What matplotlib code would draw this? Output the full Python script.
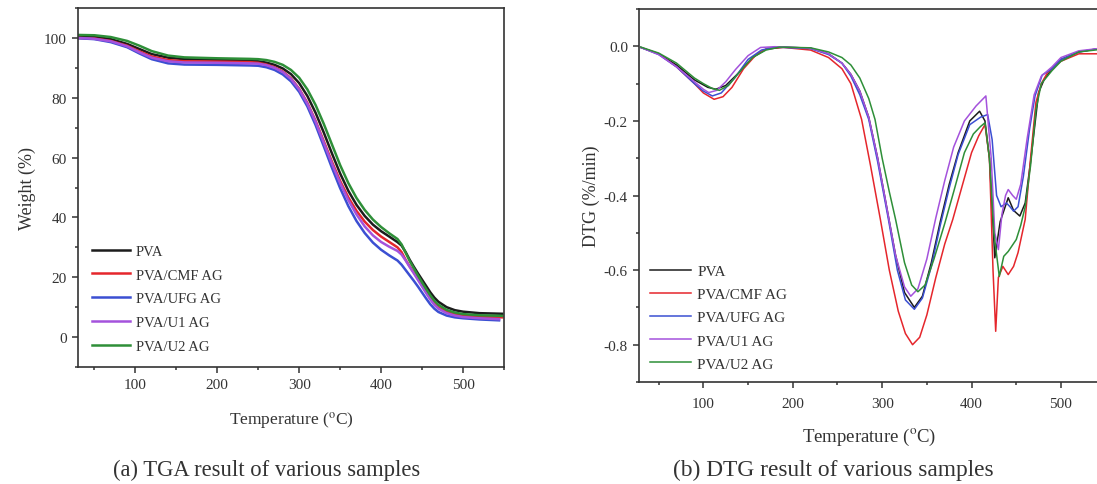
import numpy as np
import matplotlib
matplotlib.use("Agg")
import matplotlib.pyplot as plt
from matplotlib.ticker import MultipleLocator

plt.rcParams['font.family'] = ['Liberation Serif', 'DejaVu Serif']
plt.rcParams['mathtext.fontset'] = 'stix'

labels = ["PVA", "PVA/CMF AG", "PVA/UFG AG", "PVA/U1 AG", "PVA/U2 AG"]
colors = ["#1c1c1c", "#e5262c", "#3b4fd2", "#a452dc", "#2e8f38"]

# ---- TGA data (weight %) ----
tga_T = [30, 50, 70, 90, 105, 120, 140, 160, 200, 240,
         250, 260, 270, 280, 290, 300, 310, 320, 330, 340, 350, 360, 370, 380, 390, 400, 410,
         420, 425, 430, 435, 440, 445, 450, 455, 460, 465, 470, 480, 490, 500, 520, 548]
tga_pva = [100.6, 100.4, 99.6, 98.0, 96.3, 94.6, 93.4, 92.9, 92.7, 92.4,
           92.2, 91.75, 91.0, 89.8, 87.9, 84.9, 80.6, 75.0, 68.4, 61.4, 54.7, 48.9, 44.2, 40.5, 37.6, 35.4, 33.6,
           31.75, 30.6, 28.4, 25.8, 23.5, 21.3, 19.2, 17.1, 15.0, 13.2, 11.8, 10.0, 9.0, 8.5, 8.0, 7.8]
tga_cmf = [100.0, 99.8, 99.0, 97.4, 95.5, 93.8, 92.6, 92.2, 92.1, 91.9,
           91.7, 91.1, 90.2, 88.8, 86.5, 83.0, 78.3, 72.3, 65.5, 58.6, 52.2, 46.7, 42.2, 38.6, 35.8, 33.6, 31.8,
           30.0, 28.4, 25.8, 23.6, 21.6, 19.5, 17.4, 15.2, 13.0, 11.2, 9.9, 8.5, 7.7, 7.2, 6.8, 6.6]
tga_ufg = [99.9, 99.6, 98.6, 96.9, 94.8, 92.9, 91.5, 91.1, 91.0, 90.8,
           90.7, 90.2, 89.3, 87.8, 85.5, 82.0, 77.1, 70.9, 63.8, 56.6, 49.8, 43.8, 38.8, 34.8, 31.6, 29.2, 27.3,
           25.6, 24.2, 22.4, 20.6, 18.8, 16.9, 14.9, 12.9, 11.0, 9.5, 8.4, 7.2, 6.6, 6.3, 5.9, 5.6]
tga_u1 = [100.0, 99.7, 98.9, 97.2, 95.2, 93.4, 92.2, 91.8, 91.7, 91.5,
          91.4, 90.9, 90.0, 88.6, 86.3, 82.8, 78.0, 72.0, 65.0, 58.0, 51.5, 45.8, 41.0, 37.0, 34.0, 31.8, 30.2,
          28.8, 27.6, 25.6, 23.4, 21.3, 19.1, 16.9, 14.7, 12.6, 10.8, 9.5, 8.0, 7.2, 6.7, 6.3, 6.0]
tga_u2 = [101.0, 100.9, 100.3, 99.0, 97.4, 95.6, 94.1, 93.5, 93.2, 93.0,
          92.9, 92.6, 92.0, 91.0, 89.3, 86.7, 82.8, 77.6, 71.3, 64.4, 57.5, 51.5, 46.5, 42.5, 39.3, 36.8, 34.7,
          32.8, 31.0, 28.2, 25.4, 23.0, 20.6, 18.3, 16.1, 14.0, 12.2, 10.8, 9.1, 8.2, 7.7, 7.3, 7.1]

# ---- DTG data (%/min) ----
dtg_pva_T = [30, 50, 70, 90, 105, 114, 125, 140, 155, 170, 190, 220, 240, 255, 265, 275, 285, 295, 305, 315,
             325, 336, 345, 355, 365, 375, 385, 398, 409, 415, 420, 426, 432, 441, 447, 454, 460, 466, 475,
             481, 490, 500, 520, 545]
dtg_pva = [-0.003, -0.02, -0.05, -0.09, -0.11, -0.115, -0.105, -0.07, -0.03, -0.008, -0.002, -0.005, -0.02,
           -0.045, -0.075, -0.12, -0.19, -0.3, -0.43, -0.56, -0.66, -0.70, -0.67, -0.58, -0.47, -0.37, -0.285,
           -0.2, -0.174, -0.2, -0.3, -0.567, -0.47, -0.406, -0.44, -0.455, -0.42, -0.31, -0.124, -0.09, -0.06,
           -0.035, -0.015, -0.005]
dtg_cmf_T = [30, 50, 70, 90, 100, 112, 122, 132, 145, 160, 172, 190, 220, 240, 255, 265, 277, 287, 298, 308,
             318, 326, 334, 342, 350, 360, 370, 379, 390, 400, 408, 415, 420, 424, 427, 430, 435, 441, 447, 452,
             460, 466, 472, 478, 485, 500, 520, 545]
dtg_cmf = [-0.003, -0.02, -0.055, -0.1, -0.125, -0.142, -0.135, -0.11, -0.06, -0.02, -0.005, -0.003, -0.01,
           -0.03, -0.06, -0.1, -0.196, -0.32, -0.464, -0.6, -0.71, -0.77, -0.80, -0.78, -0.72, -0.62, -0.53,
           -0.464, -0.37, -0.285, -0.24, -0.21, -0.3, -0.6, -0.764, -0.62, -0.59, -0.612, -0.59, -0.553, -0.464,
           -0.3, -0.15, -0.1, -0.07, -0.04, -0.02, -0.02]
dtg_ufg_T = [30, 50, 70, 90, 100, 110, 120, 135, 150, 165, 180, 220, 240, 255, 265, 275, 285, 295, 307, 317,
             326, 336, 345, 355, 365, 375, 385, 398, 410, 418, 423, 428, 433, 439, 443, 447, 452, 458, 465, 471,
             479, 490, 500, 520, 545]
dtg_ufg = [-0.003, -0.022, -0.055, -0.1, -0.12, -0.133, -0.125, -0.085, -0.035, -0.01, -0.002, -0.006, -0.022,
           -0.045, -0.08, -0.13, -0.196, -0.31, -0.464, -0.6, -0.68, -0.705, -0.675, -0.59, -0.48, -0.38, -0.29,
           -0.21, -0.19, -0.183, -0.25, -0.4, -0.43, -0.42, -0.43, -0.442, -0.43, -0.348, -0.22, -0.133, -0.077,
           -0.06, -0.035, -0.015, -0.005]
dtg_u1_T = [30, 50, 70, 90, 100, 106, 115, 125, 136, 150, 164, 180, 220, 240, 255, 265, 275, 285, 295, 305,
            315, 325, 332, 340, 350, 360, 370, 380, 392, 405, 416, 422, 426, 430, 434, 438, 441, 446, 450, 455,
            462, 470, 478, 490, 500, 520, 545]
dtg_u1 = [-0.003, -0.022, -0.055, -0.095, -0.115, -0.124, -0.118, -0.095, -0.062, -0.025, -0.003, -0.001,
          -0.005, -0.02, -0.045, -0.075, -0.12, -0.19, -0.3, -0.43, -0.56, -0.645, -0.67, -0.65, -0.57, -0.46,
          -0.36, -0.27, -0.2, -0.16, -0.133, -0.3, -0.5, -0.545, -0.45, -0.40, -0.384, -0.40, -0.41, -0.37,
          -0.25, -0.13, -0.08, -0.055, -0.03, -0.012, -0.005]
dtg_u2_T = [30, 50, 70, 90, 100, 110, 118, 128, 140, 155, 170, 185, 220, 240, 255, 265, 275, 285, 292, 300,
            308, 315, 325, 333, 340, 348, 358, 370, 380, 392, 402, 410, 415, 420, 425, 431, 436, 441, 450, 455,
            460, 466, 472, 478, 490, 500, 520, 545]
dtg_u2 = [-0.002, -0.018, -0.045, -0.085, -0.1, -0.113, -0.118, -0.105, -0.07, -0.03, -0.01, -0.002, -0.004,
          -0.015, -0.03, -0.05, -0.085, -0.14, -0.196, -0.3, -0.39, -0.464, -0.58, -0.64, -0.658, -0.64, -0.57,
          -0.475, -0.39, -0.285, -0.235, -0.215, -0.205, -0.3, -0.5, -0.617, -0.563, -0.55, -0.518, -0.48, -0.43,
          -0.32, -0.17, -0.1, -0.065, -0.04, -0.015, -0.008]

tga_series = [tga_pva, tga_cmf, tga_ufg, tga_u1, tga_u2]
tga_end = [548, 548, 544, 544, 548]
dtg_series = [(dtg_pva_T, dtg_pva), (dtg_cmf_T, dtg_cmf), (dtg_ufg_T, dtg_ufg),
              (dtg_u1_T, dtg_u1), (dtg_u2_T, dtg_u2)]

ink = "#333333"


def style(ax):
    for s in ax.spines.values():
        s.set_color(ink)
        s.set_linewidth(1.2)
    ax.tick_params(which="both", direction="out", colors=ink, labelsize=11, width=1.1)
    ax.tick_params(which="major", length=4.5)
    ax.tick_params(which="minor", length=2.5)
    ax.xaxis.set_major_locator(MultipleLocator(100))
    ax.xaxis.set_minor_locator(MultipleLocator(50))


fig = plt.figure(figsize=(10.97, 4.85), dpi=100)

# (a) TGA
ax1 = fig.add_axes([0.0711, 0.2412, 0.3883, 0.7402])
for i in range(5):
    T = np.array(tga_T)
    w = np.array(tga_series[i])
    T = np.where(T > tga_end[i], tga_end[i], T)
    ax1.plot(T, w, color=colors[i], lw=1.8, label=labels[i])
ax1.set_xlim(30, 550)
ax1.set_ylim(-10, 110)
style(ax1)
ax1.yaxis.set_major_locator(MultipleLocator(20))
ax1.yaxis.set_minor_locator(MultipleLocator(10))
ax1.set_xlabel("Temperature ($^{\\mathrm{o}}$C)", fontsize=12.5, labelpad=13, color=ink)
ax1.set_ylabel("Weight (%)", fontsize=13, labelpad=6, color=ink)
ax1.legend(loc="lower left", bbox_to_anchor=(0.033, 0.04), frameon=False, fontsize=10.5,
           handlelength=2.6, handletextpad=0.4, labelspacing=0.72, borderpad=0, borderaxespad=0,
           labelcolor=ink)

# (b) DTG
ax2 = fig.add_axes([0.5825, 0.2103, 0.4205, 0.769])
for i in range(5):
    T, v = dtg_series[i]
    ax2.plot(T, v, color=colors[i], lw=1.1, label=labels[i])
ax2.set_xlim(28, 544)
ax2.set_ylim(-0.9, 0.1)
style(ax2)
ax2.xaxis.set_tick_params(pad=6)
ax2.yaxis.set_major_locator(MultipleLocator(0.2))
ax2.yaxis.set_minor_locator(MultipleLocator(0.1))
ax2.yaxis.set_major_formatter(matplotlib.ticker.FuncFormatter(lambda y, p: f"{y:.1f}".replace("-0.0", "0.0")))
ax2.set_xlabel("Temperature ($^{\\mathrm{o}}$C)", fontsize=13.5, labelpad=12, color=ink)
ax2.set_ylabel("DTG (%/min)", fontsize=13, labelpad=3, color=ink)
ax2.legend(loc="lower left", bbox_to_anchor=(0.024, 0.03), frameon=False, fontsize=11,
           handlelength=2.7, handletextpad=0.4, labelspacing=0.62, borderpad=0, borderaxespad=0,
           labelcolor=ink)

fig.text(0.243, 0.03, "(a) TGA result of various samples", fontsize=16.3, ha="center", va="center", color=ink)
fig.text(0.760, 0.03, "(b) DTG result of various samples", fontsize=16.8, ha="center", va="center", color=ink)

fig.savefig("out.png", dpi=100)
